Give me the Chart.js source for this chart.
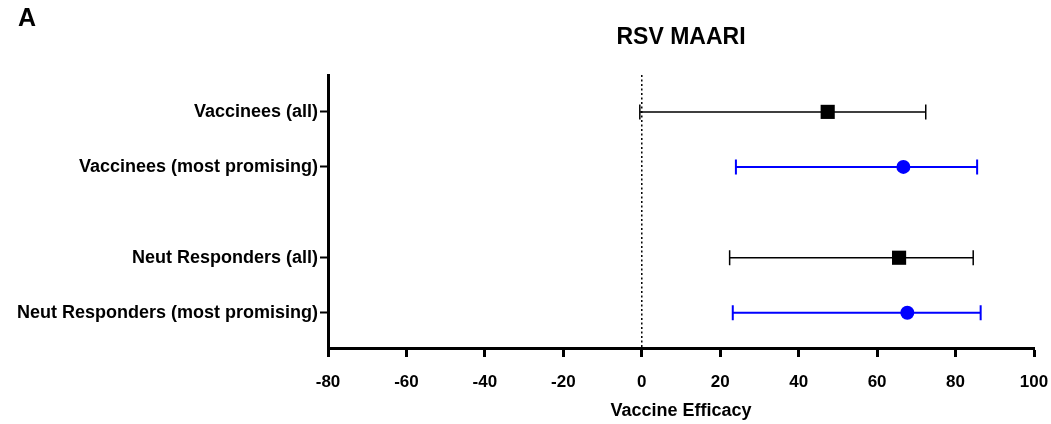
<!DOCTYPE html>
<html>
<head>
<meta charset="utf-8">
<script src="https://cdn.jsdelivr.net/npm/chart.js@4.4.1/dist/chart.umd.min.js"></script>
<style>
  html, body { margin: 0; padding: 0; background: #ffffff; }
  #wrap { width: 1051px; height: 424px; position: relative; }
</style>
</head>
<body>
<div id="wrap"><canvas id="c" width="1051" height="424"></canvas></div>
<script>
// ---- data ----
const categories = ['Vaccinees (all)', 'Vaccinees (most promising)', 'Neut Responders (all)', 'Neut Responders (most promising)'];
const rowPositions = [1, 2, 3.65, 4.65];
const efficacy = [47.4, 66.7, 65.6, 67.7];
const ciLower = [-0.5, 24.0, 22.4, 23.2];
const ciUpper = [72.4, 85.5, 84.5, 86.4];
const xTickValues = [-80, -60, -40, -20, 0, 20, 40, 60, 80, 100];
const chartTitle = 'RSV MAARI';
const panelLabel = 'A';
const xAxisTitle = 'Vaccine Efficacy';

// ---- styles ----
const FONT = "'Liberation Sans', Arial, Helvetica, sans-serif";
const rowColors = ['#000000', '#0000ff', '#000000', '#0000ff'];
const rowShapes = ['rect', 'circle', 'rect', 'circle'];
const rowRadius = [10, 7, 10, 7];

const errorBarPlugin = {
  id: 'errorBars',
  beforeDatasetsDraw(chart) {
    const { ctx, chartArea, scales: { x, y } } = chart;
    ctx.save();
    const x0 = x.getPixelForValue(0);
    ctx.beginPath();
    ctx.setLineDash([2, 2.5]);
    ctx.lineWidth = 1.5;
    ctx.strokeStyle = '#000';
    ctx.moveTo(x0, chartArea.top);
    ctx.lineTo(x0, chartArea.bottom);
    ctx.stroke();
    ctx.setLineDash([]);
    const cap = 7.5;
    for (let i = 0; i < categories.length; i++) {
      const py = y.getPixelForValue(rowPositions[i]);
      const xl = x.getPixelForValue(ciLower[i]);
      const xu = x.getPixelForValue(ciUpper[i]);
      ctx.strokeStyle = rowColors[i];
      ctx.lineWidth = rowColors[i] === '#0000ff' ? 2 : 1.5;
      ctx.beginPath();
      ctx.moveTo(xl, py); ctx.lineTo(xu, py);
      ctx.moveTo(xl, py - cap); ctx.lineTo(xl, py + cap);
      ctx.moveTo(xu, py - cap); ctx.lineTo(xu, py + cap);
      ctx.stroke();
    }
    ctx.restore();
  },
  afterDraw(chart) {
    const { ctx, chartArea } = chart;
    ctx.save();
    ctx.fillStyle = '#000';
    ctx.textAlign = 'center';
    ctx.textBaseline = 'middle';
    ctx.font = 'bold 23px ' + FONT;
    ctx.fillText(chartTitle, (chartArea.left + chartArea.right) / 2, 38);
    ctx.textAlign = 'left';
    ctx.font = 'bold 25px ' + FONT;
    ctx.fillText(panelLabel, 18, 19);
    ctx.restore();
  }
};

new Chart(document.getElementById('c'), {
  type: 'scatter',
  data: {
    datasets: [{
      data: efficacy.map((v, i) => ({ x: v, y: rowPositions[i] })),
      pointStyle: rowShapes,
      pointRadius: rowRadius,
      pointHoverRadius: rowRadius,
      backgroundColor: rowColors,
      borderColor: rowColors,
      borderWidth: 0
    }]
  },
  options: {
    responsive: false,
    animation: false,
    events: [],
    layout: { padding: { top: 75, right: 17, left: 0, bottom: 0 } },
    plugins: { legend: { display: false }, tooltip: { enabled: false } },
    scales: {
      x: {
        type: 'linear',
        min: -80, max: 100,
        afterBuildTicks: s => { s.ticks = xTickValues.map(v => ({ value: v })); },
        afterFit: s => { s.height = 76; s.paddingLeft = 0; s.paddingRight = 0; },
        border: { display: true, color: '#000', width: 3 },
        grid: { drawOnChartArea: false, drawTicks: true, tickLength: 9, tickWidth: 3, tickColor: '#000' },
        ticks: { color: '#000', font: { family: FONT, size: 17, weight: 'bold' }, padding: 15, maxRotation: 0 },
        title: { display: true, text: xAxisTitle, color: '#000', font: { family: FONT, size: 18, weight: 'bold' }, padding: { top: 0, bottom: 2 } }
      },
      y: {
        type: 'linear',
        reverse: true,
        min: 0.33, max: 5.29,
        afterBuildTicks: s => { s.ticks = rowPositions.map(v => ({ value: v })); },
        afterFit: s => { s.width = 328; s.paddingTop = 0; s.paddingBottom = 0; },
        border: { display: true, color: '#000', width: 3 },
        grid: { drawOnChartArea: false, drawTicks: true, tickLength: 8, tickWidth: 2, tickColor: '#000' },
        ticks: {
          color: '#000',
          font: { family: FONT, size: 18, weight: 'bold' },
          padding: 2,
          autoSkip: false,
          callback: (v) => { const i = rowPositions.indexOf(v); return i >= 0 ? categories[i] : ''; }
        }
      }
    }
  },
  plugins: [errorBarPlugin]
});
</script>
</body>
</html>
